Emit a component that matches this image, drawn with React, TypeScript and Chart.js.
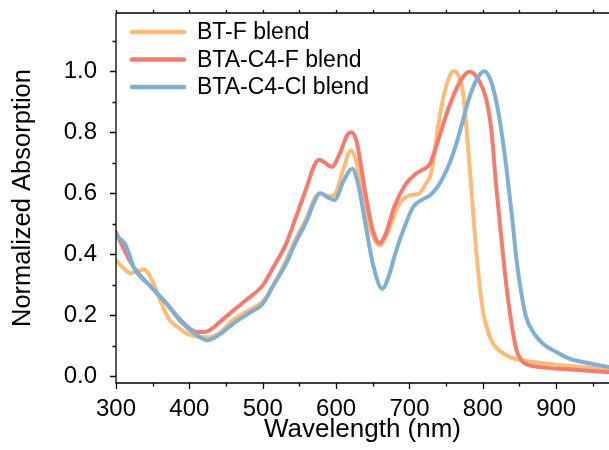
import React, { useEffect, useRef } from "react";
import { Chart, registerables } from "chart.js";

Chart.register(...registerables);

const seriesNames = ["BT-F blend", "BTA-C4-F blend", "BTA-C4-Cl blend"];
const seriesColors = ["#FDBB76", "#F57B6D", "#7EAFD5"];

const btfX = [300, 310, 320, 330, 338, 350, 360, 373, 385, 396, 410, 425, 440, 460, 480, 500, 515, 532, 545, 560, 570, 578, 590, 598, 610, 620, 628, 640, 650, 660, 670, 685, 700, 712, 722, 730, 741, 750, 760, 766, 773, 782, 791, 800, 808, 814, 825, 837, 860, 900, 940, 972];
const btfY = [0.38, 0.355, 0.338, 0.345, 0.35, 0.31, 0.25, 0.185, 0.16, 0.14, 0.13, 0.128, 0.14, 0.185, 0.215, 0.245, 0.3, 0.38, 0.45, 0.52, 0.58, 0.6, 0.59, 0.595, 0.68, 0.74, 0.7, 0.55, 0.46, 0.43, 0.47, 0.56, 0.593, 0.598, 0.63, 0.67, 0.85, 0.95, 1.0, 0.99, 0.93, 0.686, 0.413, 0.216, 0.14, 0.107, 0.08, 0.063, 0.05, 0.038, 0.03, 0.025];

const c4fX = [300, 312, 324, 345, 369, 390, 410, 420, 428, 445, 460, 480, 500, 515, 532, 545, 560, 570, 577, 585, 594, 605, 615, 621, 628, 640, 650, 659, 668, 680, 695, 709, 720, 728, 740, 755, 770, 782, 792, 805, 812, 818, 825, 832, 840, 846, 852, 859, 880, 920, 972];
const c4fY = [0.473, 0.41, 0.358, 0.3, 0.238, 0.18, 0.145, 0.145, 0.152, 0.185, 0.216, 0.255, 0.298, 0.36, 0.435, 0.52, 0.62, 0.69, 0.71, 0.7, 0.686, 0.73, 0.79, 0.8, 0.77, 0.6, 0.48, 0.437, 0.47, 0.56, 0.63, 0.665, 0.68, 0.697, 0.78, 0.89, 0.97, 0.998, 0.98, 0.905, 0.8, 0.63, 0.46, 0.3, 0.16, 0.085, 0.055, 0.04, 0.03, 0.022, 0.014];

const c4clX = [300, 312, 318, 324, 345, 369, 390, 414, 424, 440, 460, 480, 500, 515, 532, 545, 560, 570, 578, 590, 598, 610, 622, 630, 640, 650, 663, 672, 682, 695, 705, 718, 728, 738, 746, 755, 764, 773, 782, 792, 802, 810, 818, 825, 832, 840, 846, 852, 859, 870, 882, 900, 918, 940, 972];
const c4clY = [0.459, 0.435, 0.4, 0.358, 0.3, 0.238, 0.175, 0.129, 0.118, 0.135, 0.173, 0.205, 0.238, 0.3, 0.37, 0.44, 0.51, 0.57, 0.6, 0.585, 0.578, 0.64, 0.68, 0.63, 0.5, 0.37, 0.287, 0.33, 0.413, 0.5, 0.555, 0.58, 0.593, 0.62, 0.653, 0.7, 0.763, 0.84, 0.917, 0.975, 1.0, 0.975, 0.905, 0.81, 0.686, 0.52, 0.38, 0.28, 0.194, 0.14, 0.107, 0.08, 0.058, 0.045, 0.03];

const xMajorTicks = [300, 400, 500, 600, 700, 800, 900];
const xMinorTicks = [350, 450, 550, 650, 750, 850, 950];
const yMajorTicks = [0, 0.2, 0.4, 0.6, 0.8, 1.0];
const yMinorTicks = [0.1, 0.3, 0.5, 0.7, 0.9, 1.1];

const X_MIN = 300;
const X_MAX = 972;
const Y_MIN = -0.022;
const Y_MAX = 1.191;

const FONT = "Arial, 'Liberation Sans', sans-serif";

const toPts = (xs: number[], ys: number[]) => xs.map((x, i) => ({ x, y: ys[i] }));

const framePlugin = {
  id: "frame",
  afterDraw(chart: any) {
    const { ctx, chartArea } = chart;
    const xs = chart.scales.x;
    const ys = chart.scales.y;
    ctx.save();
    ctx.strokeStyle = "#000";
    ctx.lineWidth = 1.3;
    ctx.beginPath();
    ctx.moveTo(chartArea.left, chartArea.top);
    ctx.lineTo(chartArea.left, chartArea.bottom);
    ctx.lineTo(chartArea.right, chartArea.bottom);
    ctx.moveTo(chartArea.left, chartArea.top);
    ctx.lineTo(chartArea.right, chartArea.top);
    for (const v of yMajorTicks) {
      const p = Math.round(ys.getPixelForValue(v)) + 0.5;
      ctx.moveTo(chartArea.left - 6, p);
      ctx.lineTo(chartArea.left, p);
    }
    for (const v of yMinorTicks) {
      const p = Math.round(ys.getPixelForValue(v)) + 0.5;
      ctx.moveTo(chartArea.left - 3.5, p);
      ctx.lineTo(chartArea.left, p);
    }
    for (const v of xMajorTicks) {
      const p = Math.round(xs.getPixelForValue(v)) + 0.5;
      ctx.moveTo(p, chartArea.bottom);
      ctx.lineTo(p, chartArea.bottom + 6);
      ctx.moveTo(p, chartArea.top);
      ctx.lineTo(p, chartArea.top - 3);
    }
    for (const v of xMinorTicks) {
      const p = Math.round(xs.getPixelForValue(v)) + 0.5;
      ctx.moveTo(p, chartArea.bottom);
      ctx.lineTo(p, chartArea.bottom + 3.5);
      ctx.moveTo(p, chartArea.top);
      ctx.lineTo(p, chartArea.top - 3);
    }
    ctx.stroke();

    // legend
    const rows = [32, 59.5, 87];
    ctx.font = `23px ${FONT}`;
    ctx.textBaseline = "middle";
    ctx.fillStyle = "#000";
    chart.data.datasets.forEach((ds: any, i: number) => {
      const y = rows[i];
      ctx.strokeStyle = ds.borderColor;
      ctx.lineWidth = 4.5;
      ctx.lineCap = "round";
      ctx.beginPath();
      ctx.moveTo(132, y);
      ctx.lineTo(184, y);
      ctx.stroke();
      ctx.fillText(ds.label, 197, y + 1);
    });
    ctx.restore();
  },
};

export default function App() {
  const ref = useRef<HTMLCanvasElement | null>(null);

  useEffect(() => {
    if (!ref.current) return;
    const datasets = [
      { label: seriesNames[0], data: toPts(btfX, btfY), borderColor: seriesColors[0], order: 2 },
      { label: seriesNames[1], data: toPts(c4fX, c4fY), borderColor: seriesColors[1], order: 1 },
      { label: seriesNames[2], data: toPts(c4clX, c4clY), borderColor: seriesColors[2], order: 0 },
    ].map((d) => ({
      ...d,
      borderWidth: 4,
      pointRadius: 0,
      fill: false,
      cubicInterpolationMode: "monotone" as const,
      borderCapStyle: "round" as const,
      borderJoinStyle: "round" as const,
    }));

    const chart = new Chart(ref.current, {
      type: "line",
      data: { datasets },
      options: {
        animation: false,
        responsive: false,
        layout: { padding: { top: 13, right: 0, left: 0, bottom: 0 } },
        plugins: { legend: { display: false }, tooltip: { enabled: false } },
        scales: {
          x: {
            type: "linear",
            min: X_MIN,
            max: X_MAX,
            afterBuildTicks: (s: any) => {
              s.ticks = xMajorTicks.map((v) => ({ value: v }));
            },
            afterFit: (s: any) => {
              s.height = 67;
              s.paddingLeft = 0;
              s.paddingRight = 0;
            },
            grid: { display: false },
            border: { display: false },
            ticks: {
              color: "#000",
              font: { family: FONT, size: 24 },
              padding: 4,
              maxRotation: 0,
              autoSkip: false,
            },
            title: {
              display: true,
              text: "Wavelength (nm)",
              color: "#000",
              font: { family: FONT, size: 26 },
              padding: { top: 0, bottom: 5 },
            },
          },
          y: {
            type: "linear",
            min: Y_MIN,
            max: Y_MAX,
            afterBuildTicks: (s: any) => {
              s.ticks = yMajorTicks.map((v) => ({ value: v }));
            },
            afterFit: (s: any) => {
              s.width = 116;
              s.paddingTop = 0;
              s.paddingBottom = 0;
            },
            grid: { display: false },
            border: { display: false },
            ticks: {
              color: "#000",
              font: { family: FONT, size: 24 },
              padding: 11,
              callback: (v: any) => Number(v).toFixed(1),
            },
            title: {
              display: true,
              text: "Normalized Absorption",
              color: "#000",
              font: { family: FONT, size: 25.5 },
              padding: { top: 8, bottom: 0 },
            },
          },
        },
      },
      plugins: [framePlugin],
    });
    return () => chart.destroy();
  }, []);

  return (
    <div style={{ position: "absolute", left: 0, top: 0, width: 609, height: 450, background: "#fff" }}>
      <canvas ref={ref} width={609} height={450} style={{ display: "block" }} />
    </div>
  );
}
